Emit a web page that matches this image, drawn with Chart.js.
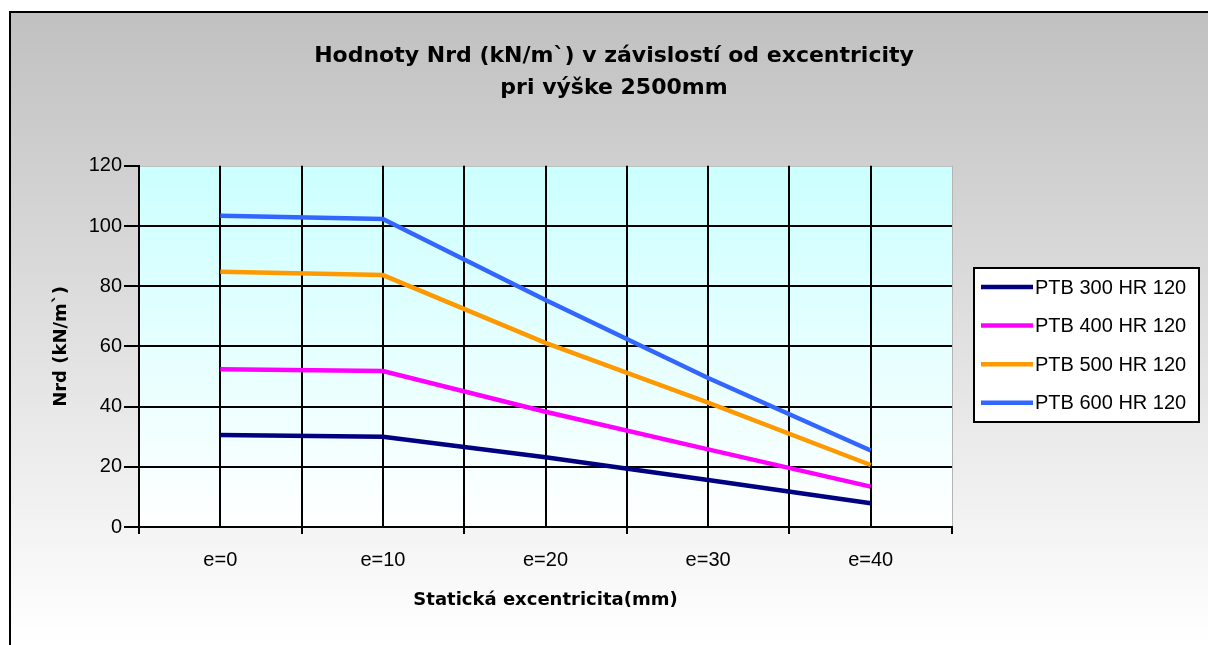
<!DOCTYPE html>
<html>
<head>
<meta charset="utf-8">
<script src="https://cdn.jsdelivr.net/npm/chart.js@4.4.1/dist/chart.umd.min.js"></script>
<style>
  body { margin: 0; background: #fff; }
  canvas { display: block; }
</style>
</head>
<body>
<canvas id="myChart" width="1208" height="645"></canvas>
<script>
'use strict';

// values
var categories = ['e=0', 'e=10', 'e=20', 'e=30', 'e=40'];
var seriesNames = ['PTB 300 HR 120', 'PTB 400 HR 120', 'PTB 500 HR 120', 'PTB 600 HR 120'];
var ptb300 = [30.6, 30.0, 23.2, 15.6, 7.9];
var ptb400 = [52.4, 51.8, 38.3, 25.8, 13.4];
var ptb500 = [84.8, 83.7, 61.2, 41.3, 20.6];
var ptb600 = [103.4, 102.3, 75.4, 49.5, 25.4];
var yTicks = [0, 20, 40, 60, 80, 100, 120];

var seriesValues = [ptb300, ptb400, ptb500, ptb600];
var seriesColors = ['#000080', '#ff00ff', '#ff9900', '#3366ff'];

var titleLines = ['Hodnoty Nrd (kN/m`) v závislostí od excentricity', 'pri výške 2500mm'];
var xTitle = 'Statická excentricita(mm)';
var yTitle = 'Nrd (kN/m`)';

// gray frame + cyan plot area, like the old Excel chart
var backgroundPlugin = {
  id: 'excelBackground',
  beforeDraw: function (chart) {
    var c = chart.ctx;
    var a = chart.chartArea;
    c.save();
    c.fillStyle = '#fff';
    c.fillRect(0, 0, chart.width, chart.height);
    var g = c.createLinearGradient(0, 11, 0, chart.height);
    g.addColorStop(0, '#c0c0c0');
    g.addColorStop(1, '#ffffff');
    c.fillStyle = g;
    c.fillRect(10, 11, chart.width - 10, chart.height - 11);
    c.fillStyle = '#000';
    c.fillRect(9, 11, 2, chart.height - 11);
    c.fillRect(9, 11, chart.width - 9, 2);
    var pg = c.createLinearGradient(0, a.top, 0, a.bottom);
    pg.addColorStop(0, '#ccffff');
    pg.addColorStop(1, '#ffffff');
    c.fillStyle = pg;
    c.fillRect(a.left, a.top, a.right - a.left, a.bottom - a.top);
    c.strokeStyle = '#b4b4b4';
    c.lineWidth = 1;
    c.strokeRect(a.left + 0.5, a.top + 0.5, a.right - a.left, a.bottom - a.top);
    c.restore();
  }
};

// boxed legend on the right
var legendPlugin = {
  id: 'boxLegend',
  afterDraw: function (chart) {
    var c = chart.ctx;
    var sets = chart.data.datasets;
    var x = 974, y = 268, w = 225, h = 154;
    c.save();
    c.fillStyle = '#fff';
    c.fillRect(x, y, w, h);
    c.strokeStyle = '#000';
    c.lineWidth = 2;
    c.strokeRect(x, y, w, h);
    c.font = '20px "Liberation Sans", Arial, sans-serif';
    c.textBaseline = 'middle';
    c.textAlign = 'left';
    for (var i = 0; i < sets.length; i++) {
      var cy = y + 19 + i * 38.6;
      c.strokeStyle = sets[i].borderColor;
      c.lineWidth = 4.5;
      c.beginPath();
      c.moveTo(x + 7, cy);
      c.lineTo(x + 59, cy);
      c.stroke();
      c.fillStyle = '#000';
      c.fillText(sets[i].label, x + 61, cy + 1);
    }
    c.restore();
  }
};

var datasets = seriesNames.map(function (name, i) {
  return {
    label: name,
    data: seriesValues[i],
    borderColor: seriesColors[i],
    backgroundColor: seriesColors[i],
    borderWidth: 4.5,
    pointRadius: 0,
    tension: 0,
    fill: false,
    xAxisID: 'x',
    yAxisID: 'y'
  };
});

var tickFont = { family: '"Liberation Sans", Arial, sans-serif', size: 20 };
var boldFont = { family: '"DejaVu Sans", sans-serif', size: 18, weight: 'bold' };

var ctx = document.getElementById('myChart').getContext('2d');
var myChart = new Chart(ctx, {
  type: 'line',
  data: {
    labels: categories,
    datasets: datasets
  },
  options: {
    responsive: false,
    animation: false,
    layout: { padding: { left: 20, right: 0, top: 0, bottom: 0 } },
    plugins: {
      legend: { display: false },
      tooltip: { enabled: false },
      title: {
        display: true,
        text: titleLines,
        color: '#000',
        font: { family: '"DejaVu Sans", sans-serif', size: 22, weight: 'bold', lineHeight: 1.45 },
        padding: { top: 40, bottom: 62 }
      }
    },
    scales: {
      x: {
        type: 'category',
        position: 'bottom',
        offset: true,
        grid: {
          offset: true,
          lineWidth: 2,
          color: function (c) { return c.type === 'tick' ? '#000' : 'rgba(0,0,0,0)'; },
          tickColor: '#000',
          tickLength: 7
        },
        border: { display: true, color: '#000', width: 2 },
        ticks: { color: '#000', font: tickFont, padding: 14, maxRotation: 0 },
        title: { display: true, text: xTitle, color: '#000', font: boldFont, padding: { top: 0, bottom: 34 } },
        afterFit: function (s) { s.height = 118; }
      },
      xMid: {
        type: 'category',
        position: 'bottom',
        offset: true,
        grid: { offset: false, lineWidth: 2, color: '#000', drawTicks: false },
        border: { display: false },
        ticks: { display: false },
        afterFit: function (s) { s.height = 0; }
      },
      y: {
        type: 'linear',
        position: 'left',
        min: yTicks[0],
        max: yTicks[yTicks.length - 1],
        ticks: { stepSize: yTicks[1] - yTicks[0], color: '#000', font: tickFont, padding: 2 },
        grid: {
          lineWidth: 2,
          color: function (c) { return c.tick && c.tick.value === yTicks[yTicks.length - 1] ? 'rgba(0,0,0,0)' : '#000'; },
          tickColor: '#000',
          tickLength: 15
        },
        border: { display: true, color: '#000', width: 2 },
        title: { display: true, text: yTitle, color: '#000', font: boldFont, padding: { top: 31, bottom: 0 } },
        afterFit: function (s) { s.width = 119; }
      },
      yRight: {
        type: 'linear',
        position: 'right',
        display: true,
        grid: { display: false },
        border: { display: false },
        ticks: { display: false },
        afterFit: function (s) { s.width = 256; }
      }
    }
  },
  plugins: [backgroundPlugin, legendPlugin]
});
</script>
</body>
</html>
